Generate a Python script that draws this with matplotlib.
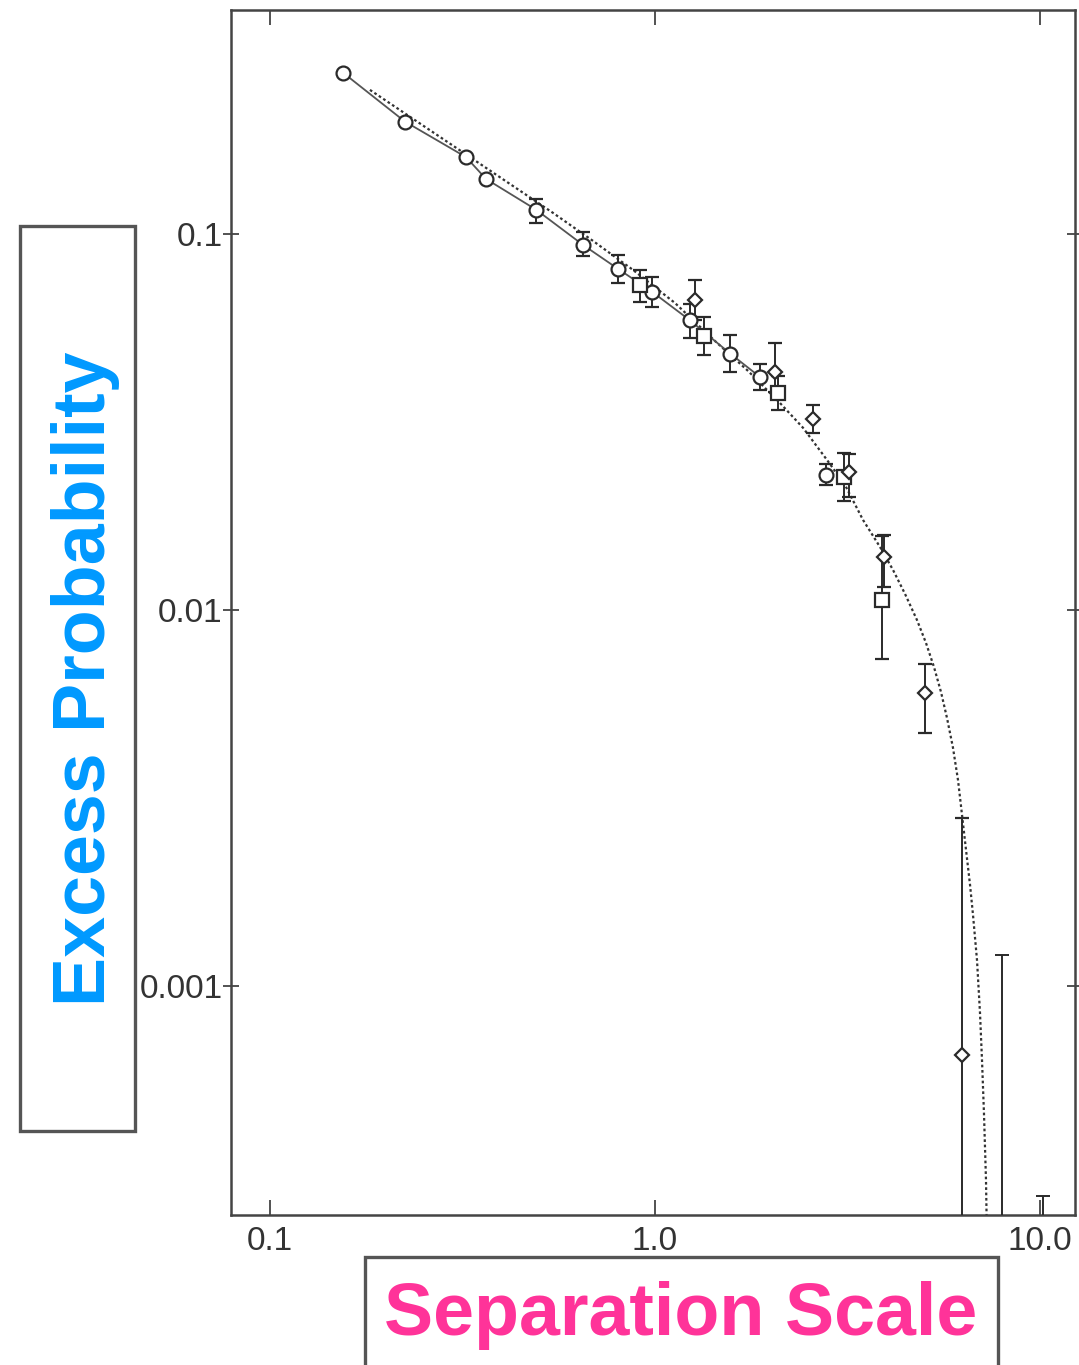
import matplotlib
matplotlib.use('Agg')
import matplotlib.pyplot as plt
from matplotlib.patches import Rectangle
from matplotlib.ticker import NullLocator
import numpy as np

# ---- data ----
circ_x  = [0.155, 0.224, 0.323, 0.364, 0.491, 0.650, 0.802, 0.982, 1.23, 1.57, 1.87, 2.78]
circ_y  = [0.268, 0.199, 0.160, 0.140, 0.116, 0.0935, 0.0807, 0.0702, 0.059, 0.048, 0.0417, 0.0229]
circ_lo = [0.268, 0.199, 0.160, 0.140, 0.107, 0.0875, 0.074, 0.064, 0.053, 0.043, 0.0385, 0.0215]
circ_hi = [0.268, 0.199, 0.160, 0.140, 0.124, 0.101, 0.088, 0.077, 0.065, 0.054, 0.045, 0.0245]

sq_x  = [0.914, 1.34, 2.09, 3.10, 3.89]
sq_y  = [0.0731, 0.0535, 0.0378, 0.0226, 0.01064]
sq_lo = [0.066, 0.0475, 0.034, 0.0195, 0.0074]
sq_hi = [0.080, 0.060, 0.042, 0.0262, 0.0157]

dia_x  = [1.27, 2.05, 2.57, 3.20, 3.94, 5.02, 6.27]
dia_y  = [0.0667, 0.043, 0.0322, 0.0232, 0.0138, 0.0060, 0.000655]
dia_lo = [0.059, 0.038, 0.0295, 0.020, 0.0115, 0.0047, 1e-6]
dia_hi = [0.0755, 0.0513, 0.035, 0.026, 0.0158, 0.0072, 0.0028]

# error bars whose points fall below the plotted range
open_x   = [7.96, 10.2]
open_top = [0.00121, 0.000276]

# dotted model curve
curve_x = [0.1818, 0.3114, 0.5435, 0.6902, 0.8768, 1.127, 1.449, 1.745, 2.112, 2.424,
           2.797, 3.115, 3.470, 3.840, 4.151, 4.461, 4.792, 5.057, 5.305, 5.532,
           5.734, 5.943, 6.124, 6.273, 6.425, 6.580, 6.699, 6.861, 6.985, 7.069,
           7.153, 7.240, 7.283]
curve_y = [0.2415, 0.1668, 0.1137, 0.0958, 0.0802, 0.0655, 0.0513, 0.0432, 0.0355, 0.0305,
           0.02506, 0.02150, 0.01735, 0.01471, 0.01278, 0.01103, 0.00940, 0.00817, 0.00705, 0.00605,
           0.00516, 0.00430, 0.00353, 0.00285, 0.00230, 0.00186, 0.001545, 0.001172, 0.000848, 0.000636,
           0.000459, 0.000305, 0.000211]

xticks = [0.1, 1.0, 10.0]
xtick_labels = ['0.1', '1.0', '10.0']
yticks = [0.001, 0.01, 0.1]
ytick_labels = ['0.001', '0.01', '0.1']

# ---- figure ----
fig = plt.figure(figsize=(10.79, 13.65), dpi=100)
ax = fig.add_axes([0.2141, 0.1099, 0.7822, 0.8828])
ax.set_xscale('log')
ax.set_yscale('log')
ax.set_xlim(0.0792, 12.33)
ax.set_ylim(0.000246, 0.394)

ink = '#2a2a2a'

ax.plot(curve_x, curve_y, linestyle=(0, (1.2, 1.2)), color='#333333', lw=1.6, zorder=2)
ax.plot(circ_x[:11], circ_y[:11], '-', color='#555555', lw=1.3, zorder=2)

def eb(x, y, lo, hi, marker, ms):
    x = np.array(x); y = np.array(y); lo = np.array(lo); hi = np.array(hi)
    ax.errorbar(x, y, yerr=[y - lo, hi - y], fmt=marker, mfc='white', mec=ink,
                ms=ms, mew=1.6, ecolor=ink, elinewidth=1.4, capsize=5, capthick=1.4,
                zorder=3)

eb(circ_x, circ_y, circ_lo, circ_hi, 'o', 10)
eb(sq_x, sq_y, sq_lo, sq_hi, 's', 10)
eb(dia_x, dia_y, dia_lo, dia_hi, 'D', 7.5)

ox = np.array(open_x); ot = np.array(open_top)
base = np.full_like(ot, 1e-6)
ax.errorbar(ox, base, yerr=[np.zeros_like(ot), ot - base], fmt='none', ecolor=ink,
            elinewidth=1.4, capsize=5, capthick=1.4, zorder=3)

# axes styling
for s in ax.spines.values():
    s.set_color('#444444')
    s.set_linewidth(1.8)
ax.set_xticks(xticks)
ax.set_xticklabels(xtick_labels)
ax.set_yticks(yticks)
ax.set_yticklabels(ytick_labels)
ax.xaxis.set_minor_locator(NullLocator())
ax.yaxis.set_minor_locator(NullLocator())
ax.tick_params(axis='x', which='major', direction='in', length=11, width=1.3,
               top=True, bottom=True, color='#444444', pad=8,
               labelsize=24, labelcolor='#333333')
ax.tick_params(axis='y', which='major', direction='inout', length=12, width=1.3,
               left=True, right=True, color='#444444', pad=0,
               labelsize=24, labelcolor='#333333')
for lab in ax.get_xticklabels() + ax.get_yticklabels():
    lab.set_family('Liberation Sans')

# ---- overlay label boxes ----
fig.patches.append(Rectangle((0.01854, 0.1714), 0.1066, 0.663, transform=fig.transFigure,
                             facecolor='white', edgecolor='#555555', lw=2.4, zorder=10))
fig.text(0.0788, 0.503, 'Excess Probability', rotation=90, ha='center', va='center',
         fontsize=53, fontweight='bold', color='#0099FF', family='Liberation Sans', zorder=11)

fig.patches.append(Rectangle((0.3383, -0.01), 0.5867, 0.0891, transform=fig.transFigure,
                             facecolor='white', edgecolor='#555555', lw=2.4, zorder=10))
fig.text(0.631, 0.0366, 'Separation Scale', ha='center', va='center',
         fontsize=53, fontweight='bold', color='#FF3399', family='Liberation Sans', zorder=11)

fig.savefig('out.png', dpi=100, facecolor='white')
